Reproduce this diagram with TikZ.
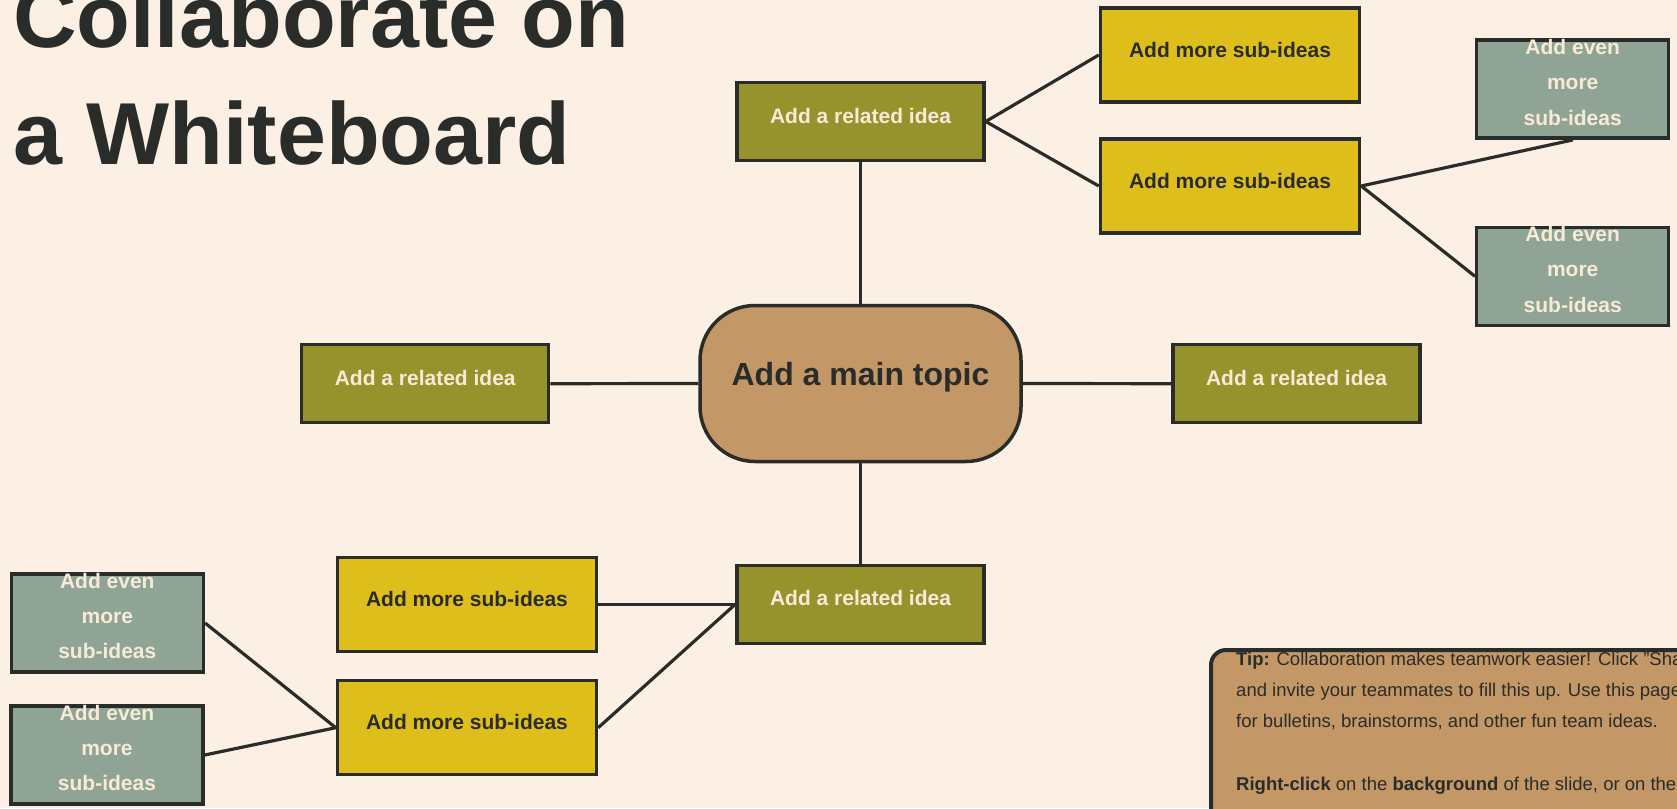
\documentclass[tikz,border=0pt]{standalone}
\usepackage{fontspec}
\setmainfont{Liberation Sans}
\definecolor{bg}{HTML}{FBF0E3}
\definecolor{olive}{HTML}{96932C}
\definecolor{ideayellow}{HTML}{DEBE1A}
\definecolor{sage}{HTML}{8FA495}
\definecolor{tan}{HTML}{C49766}
\definecolor{dark}{HTML}{2A2C2A}
\definecolor{cream}{HTML}{F7EBD8}
\newcommand\lift[2]{\raisebox{#1}[\height][\depth]{#2}}
\begin{document}
\begin{tikzpicture}[x=1pt,y=-1pt,
  box/.style={draw=dark, line width=3.5pt, inner sep=0pt, font=\fontsize{21}{25}\selectfont\bfseries},
  related/.style={box, fill=olive, text=cream, minimum width=247pt, minimum height=78pt},
  subidea/.style={box, fill=ideayellow, text=dark, minimum width=259pt, minimum height=94pt},
  evenmore/.style={box, fill=sage, text=cream, minimum width=192pt, minimum height=98pt, align=center, font=\fontsize{21}{35.3}\selectfont\bfseries},
  maintopic/.style={draw=dark, line width=3.5pt, fill=tan, text=dark, rounded corners=55pt, minimum width=321pt, minimum height=156pt, inner sep=0pt, font=\fontsize{32}{38}\selectfont\bfseries},
  link/.style={draw=dark, line width=3.2pt},
  titletext/.style={anchor=base west, inner sep=0pt, text=dark, font=\fontsize{88}{100}\selectfont\bfseries},
  tipline/.style={anchor=base west, inner sep=0pt, text=dark, font=\fontsize{18.5}{22}\selectfont}
]
\useasboundingbox (0,0) rectangle (1677,808);
\clip (0,0) rectangle (1677,808);
\fill[bg] (0,0) rectangle (1677,808);

% title
\node[titletext] (title1) at (13,48) {Collaborate on};
\node[titletext] (title2) at (13,164) {a Whiteboard};

% centres
\coordinate (mc) at (860.5,383.5);
\coordinate (rtc) at (860.5,121.5);
\coordinate (rlc) at (425.2,383.7);
\coordinate (rrc) at (1296.5,383.7);
\coordinate (rbc) at (860.5,604.3);
\coordinate (s1c) at (1230,55);
\coordinate (s2c) at (1230,186);
\coordinate (s3c) at (467,604.3);
\coordinate (s4c) at (467,727.7);
\coordinate (e1c) at (1572.7,89.2);
\coordinate (e2c) at (1572.7,276.3);
\coordinate (e3c) at (107.3,623);
\coordinate (e4c) at (107,755);

% nodes
\node[maintopic] (main) at (mc) {\lift{6pt}{Add a main topic}};
\node[related] (rtop) at (rtc) {\lift{6pt}{Add a related idea}};
\node[related] (rleft) at (rlc) {\lift{6pt}{Add a related idea}};
\node[related] (rright) at (rrc) {\lift{6pt}{Add a related idea}};
\node[related] (rbot) at (rbc) {\lift{6pt}{Add a related idea}};
\node[subidea] (s1) at (s1c) {\lift{5.5pt}{Add more sub-ideas}};
\node[subidea] (s2) at (s2c) {\lift{5.5pt}{Add more sub-ideas}};
\node[subidea] (s3) at (s3c) {\lift{5.5pt}{Add more sub-ideas}};
\node[subidea] (s4) at (s4c) {\lift{5.5pt}{Add more sub-ideas}};
\node[evenmore] (e1) at (e1c) {\lift{7pt}{Add even}\\\lift{7pt}{more}\\\lift{7pt}{sub-ideas}};
\node[evenmore] (e2) at (e2c) {\lift{7pt}{Add even}\\\lift{7pt}{more}\\\lift{7pt}{sub-ideas}};
\node[evenmore] (e3) at (e3c) {\lift{7pt}{Add even}\\\lift{7pt}{more}\\\lift{7pt}{sub-ideas}};
\node[evenmore] (e4) at (e4c) {\lift{7pt}{Add even}\\\lift{7pt}{more}\\\lift{7pt}{sub-ideas}};

% connectors
\draw[link] (main.north) -- (rtop.south);
\draw[link] (main.south) -- (rbot.north);
\draw[link] (main.west) -- (rleft.east);
\draw[link] (main.east) -- (rright.west);
\draw[link] (rtop.east) -- (s1.west);
\draw[link] (rtop.east) -- (s2.west);
\draw[link] (s2.east) -- (e1.south);
\draw[link] (s2.east) -- (e2.west);
\draw[link] (rbot.west) -- (s3.east);
\draw[link] (rbot.west) -- (s4.east);
\draw[link] (s4.west) -- (e3.east);
\draw[link] (s4.west) -- (e4.east);

% tip box
\draw[draw=dark, line width=4pt, fill=tan, rounded corners=15pt] (1211,650) rectangle (1760,900);
\node[tipline] (tip1) at (1236,665) {\textbf{Tip:} Collaboration makes teamwork easier! Click "Share"};
\node[tipline] (tip2) at (1236,696.5) {and invite your teammates to fill this up. Use this page};
\node[tipline] (tip3) at (1236,727.5) {for bulletins, brainstorms, and other fun team ideas.};
\node[tipline] (tip4) at (1236,790.5) {\textbf{Right-click} on the \textbf{background} of the slide, or on the};
\end{tikzpicture}
\end{document}
